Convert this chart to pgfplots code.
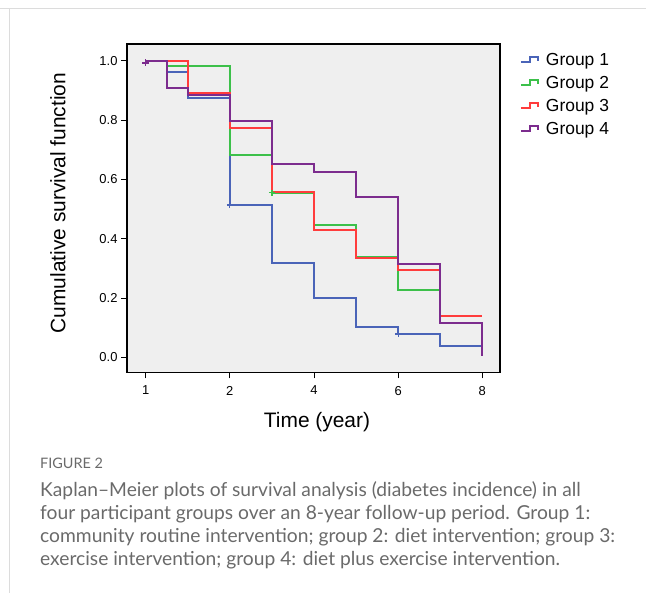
\documentclass[border=0pt]{standalone}
\usepackage{pgfplots}
\pgfplotsset{compat=1.18}
\usepackage{fontspec}
\setmainfont{Liberation Sans}
\newfontfamily\capfont{Lato}
\definecolor{gblue}{HTML}{4A64B8}
\definecolor{ggreen}{HTML}{3CC04A}
\definecolor{gred}{HTML}{FF3C3C}
\definecolor{gpurple}{HTML}{7C2C8E}
\definecolor{bgray}{HTML}{EFEFEF}
\definecolor{capgray}{HTML}{6A6A6A}
\definecolor{framegray}{HTML}{DCDCDC}
\begin{document}
\begin{tikzpicture}[x=1bp,y=1bp]
\path[use as bounding box] (0,0) rectangle (646,593);
\draw[framegray,line width=1bp] (0,584) -- (646,584);
\draw[framegray,line width=1bp] (9,584) -- (9,0);
\begin{axis}[
  at={(127bp,220.5bp)}, anchor=south west,
  scale only axis, width=373bp, height=328.5bp,
  xmin=-0.444, xmax=8.42, ymin=-0.051, ymax=1.057,
  axis background/.style={fill=bgray},
  axis line style={black,line width=1.8bp},
  xtick={0,2,4,6,8},
  xticklabels={{\fontsize{13}{15}\selectfont 1},{\fontsize{13}{15}\selectfont 2},{\fontsize{13}{15}\selectfont 4},{\fontsize{13}{15}\selectfont 6},{\fontsize{13}{15}\selectfont 8}},
  ytick={0,0.2,0.4,0.6,0.8,1.0},
  yticklabels={{\fontsize{13}{15}\selectfont 0.0},{\fontsize{13}{15}\selectfont 0.2},{\fontsize{13}{15}\selectfont 0.4},{\fontsize{13}{15}\selectfont 0.6},{\fontsize{13}{15}\selectfont 0.8},{\fontsize{13}{15}\selectfont 1.0}},
  xtick pos=bottom, ytick pos=left, tick align=outside,
  major tick length=6bp,
  tick style={black,line width=1bp},
  xticklabel style={yshift=-4bp},
  clip=false,
  legend style={at={(1.045,0.985)}, anchor=north west, draw=none, fill=none,
    font=\fontsize{17.5}{20}\selectfont, row sep=5.3bp,
    legend cell align=left,
    /tikz/every odd column/.append style={column sep=5bp}},
  legend image code/.code={\draw[#1,line width=2bp] (0bp,-2.5bp) -- (9bp,-2.5bp) -- (9bp,2.8bp) -- (17bp,2.8bp) -- (17bp,-1bp);},
  every axis plot/.append style={line width=2bp, const plot mark left, mark=none},
]
\addplot[gblue] coordinates {(0,1.0) (0.5,0.964) (1,0.874) (2,0.514) (3,0.319) (4,0.199) (5,0.103) (6,0.079) (7,0.039) (8,0.039)};
\addlegendentry{Group 1}
\addplot[ggreen] coordinates {(0,1.0) (0.5,0.983) (2,0.683) (3,0.556) (4,0.447) (5,0.337) (6,0.227) (7,0.117) (8,0.117)};
\addlegendentry{Group 2}
\addplot[gred] coordinates {(0,1.0) (1,0.890) (2,0.773) (3,0.559) (4,0.430) (5,0.334) (6,0.295) (7,0.140) (8,0.140)};
\addlegendentry{Group 3}
\addplot[gpurple] coordinates {(0,1.0) (0.5,0.910) (1,0.884) (2,0.797) (3,0.652) (4,0.626) (5,0.542) (6,0.315) (7,0.117) (8,0.006)};
\addlegendentry{Group 4}
\addplot[gblue, only marks, mark=+, mark size=3bp, line width=1.2bp, forget plot] coordinates {(2,0.514) (6,0.079)};
\addplot[ggreen, only marks, mark=+, mark size=3bp, line width=1.2bp, forget plot] coordinates {(3,0.556)};
\addplot[gpurple, only marks, mark=+, mark size=3.5bp, line width=1.5bp, forget plot] coordinates {(0,0.993)};
\end{axis}
\node[font=\fontsize{21}{24}\selectfont, rotate=90] at (58,390) {Cumulative survival function};
\node[font=\fontsize{21}{24}\selectfont] at (317,171) {Time (year)};
\node[anchor=west, font=\capfont\fontsize{14.5}{17}\selectfont, text=capgray, inner sep=0] at (40,130) {FIGURE 2};
\begin{scope}[every node/.style={anchor=west, font=\capfont\fontsize{19.3}{22}\selectfont, text=capgray, inner sep=0}]
\node at (40,102) {Kaplan–Meier plots of survival analysis (diabetes incidence) in all};
\node at (40,79) {four participant groups over an 8-year follow-up period. Group 1:};
\node at (40,56) {community routine intervention; group 2: diet intervention; group 3:};
\node at (40,33) {exercise intervention; group 4: diet plus exercise intervention.};
\end{scope}
\end{tikzpicture}
\end{document}
